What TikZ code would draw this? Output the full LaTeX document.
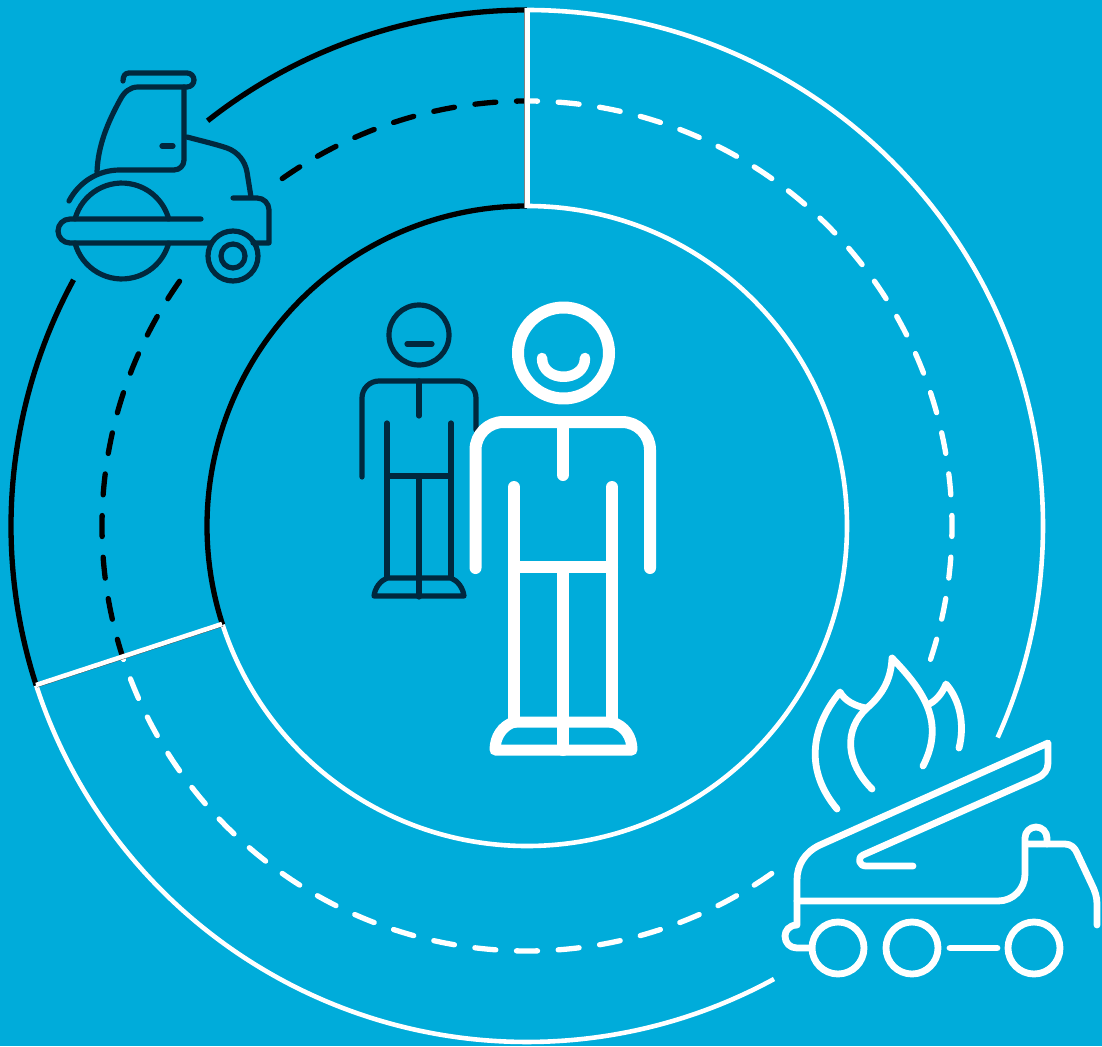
\documentclass[tikz,border=0pt]{standalone}
\definecolor{skyback}{RGB}{0,172,218}
\definecolor{navyline}{RGB}{0,40,62}
\tikzset{
  ringline/.style={line width=5.3pt},
  ringdash/.style={line width=5.3pt,line cap=round,dash pattern=on 21pt off 20.72pt},
  navyicon/.style={navyline,line width=5.2pt,line cap=round,line join=round},
  whiteicon/.style={white,line width=6.8pt,line cap=round,line join=round},
  whiteman/.style={white,line width=12pt,line cap=round,line join=round},
}
\begin{document}
\begin{tikzpicture}[x=1pt,y=-1pt]
    \fill[skyback] (0,0) rectangle (1102,1046);
    \useasboundingbox (0,0) rectangle (1102,1046);
    \coordinate (ringcentre) at (527,526);
    % black part of the rings
    \draw[ringline,black] (ringcentre) ++(-90:516) arc[start angle=-90,end angle=-128.25,radius=516];
    \draw[ringline,black] (ringcentre) ++(-151.5:516) arc[start angle=-151.5,end angle=-198,radius=516];
    \draw[ringline,black] (ringcentre) ++(-90:320) arc[start angle=-90,end angle=-198,radius=320];
    \draw[ringdash,black,dash phase=10.5pt] (ringcentre) ++(-90:425) arc[start angle=-90,end angle=-125.2,radius=425];
    \draw[ringdash,black,dash phase=39.2pt] (ringcentre) ++(-144.5:425) arc[start angle=-144.5,end angle=-198,radius=425];
    % white part of the rings
    \draw[ringline,white,line width=4.6pt] (ringcentre) ++(-90:516) arc[start angle=-90,end angle=24.2,radius=516];
    \draw[ringline,white,line width=4.6pt] (ringcentre) ++(61.4:516) arc[start angle=61.4,end angle=162,radius=516];
    \draw[ringline,white,line width=4.6pt] (ringcentre) ++(-90:320) arc[start angle=-90,end angle=162,radius=320];
    \draw[ringdash,white,dash phase=10.5pt] (ringcentre) ++(-90:425) arc[start angle=-90,end angle=18.4,radius=425];
    \draw[ringdash,white,dash phase=40.7pt] (ringcentre) ++(54.7:425) arc[start angle=54.7,end angle=162,radius=425];
    % separators
    \draw[gray,line width=1.5pt] (525.2,8) -- (525.2,208);
    \draw[white,line width=4.6pt] (527.5,8) -- (527.5,208);
    \draw[black!70,line width=1pt] (37,687) -- (223,626);
    \draw[white,line width=4.6pt] (36,685) -- (222,624);
    % roller
    \begin{scope}
      \draw[navyicon] (123,81) .. controls (123,76) and (125,73) .. (129,73) -- (187,73)
        arc[start angle=-90,end angle=90,radius=7] -- (138,87)
        .. controls (130,87) and (124,92) .. (120,100)
        .. controls (108,122) and (98,145) .. (97,172);
      \draw[navyicon] (184,87) -- (184,160) arc[start angle=0,end angle=90,radius=10] -- (120,170)
        .. controls (98,170) and (79,182) .. (69,201);
      \draw[navyicon] (162,146) -- (173,146);
      \draw[navyicon] (187,137) .. controls (202,141) and (215,144) .. (227,148)
        .. controls (238,152) and (245,161) .. (247,172) -- (251,197);
      \draw[navyicon] (233,198) -- (257,198) arc[start angle=-90,end angle=0,radius=12] -- (269,243) -- (253,243);
      \draw[navyicon] (201,219) -- (70,219) arc[start angle=-90,end angle=-270,radius=12] -- (210,243);
      \draw[navyicon] (75,219) arc[start angle=-165,end angle=-15,radius=48.5];
      \draw[navyicon] (75,243) arc[start angle=165,end angle=15,radius=48.5];
      \draw[navyicon] (233,256) circle (25);
      \draw[navyicon] (233,256) circle (12);
    \end{scope}
    % fire truck
    \begin{scope}
      \draw[whiteicon] (913,866) -- (866,866) .. controls (859,866) and (857,858) .. (863,855)
        -- (1037,778) .. controls (1044,775) and (1048,770) .. (1048,763) -- (1048,743)
        -- (820,845) .. controls (805,852) and (797,865) .. (797,880) -- (797,925)
        .. controls (789,925) and (785,931) .. (785,936) .. controls (785,943) and (790,948) .. (797,948) -- (812,948);
      \draw[whiteicon] (797,901) -- (998,901) .. controls (1013,901) and (1025,889) .. (1025,874) -- (1025,838)
        arc[start angle=180,end angle=360,radius=11] -- (1047,844);
      \draw[whiteicon] (1027,844) -- (1065,844) .. controls (1071,844) and (1075,848) .. (1077,853)
        -- (1092,885) .. controls (1095,891) and (1097,897) .. (1097,904) -- (1097,925);
      \foreach \wheelx in {838,912,1034}
        {\draw[whiteicon] (\wheelx,948) circle (26);}
      \draw[whiteicon] (950,948) -- (997,948);
      % flames
      \draw[whiteicon] (872,789) .. controls (846,763) and (843,730) .. (867,708)
        .. controls (882,695) and (891,680) .. (892,658)
        .. controls (925,692) and (945,723) .. (923,766);
      \draw[whiteicon] (837,809) .. controls (806,772) and (809,730) .. (840,692)
        .. controls (845,701) and (855,706) .. (866,708);
      \draw[whiteicon] (927,705) .. controls (935,702) and (942,694) .. (946,684)
        .. controls (960,700) and (965,725) .. (959,748);
    \end{scope}
    % small person
    \begin{scope}
      \draw[navyicon] (419,335) circle (30);
      \draw[navyicon] (407,344) -- (432,344);
      \draw[navyicon] (362,477) -- (362,398) arc[start angle=180,end angle=270,radius=17] -- (459,381)
        arc[start angle=-90,end angle=0,radius=17] -- (476,430);
      \draw[navyicon] (419,381) -- (419,416);
      \draw[navyicon] (387,423) -- (387,578);
      \draw[navyicon] (451,423) -- (451,578);
      \draw[navyicon] (387,476) -- (451,476);
      \draw[navyicon] (419,476) -- (419,597);
      \draw[navyicon] (387,578) -- (451,578) .. controls (458,581) and (463,588) .. (464,596) -- (374,596)
        .. controls (375,588) and (380,581) .. (387,578);
    \end{scope}
    % big person
    \begin{scope}
      \draw[whiteman] (563.5,353) circle (45.5);
      \draw[whiteman,line width=10.5pt] (542,358) .. controls (542,383) and (585,383) .. (585,358);
      \draw[whiteman] (475.5,568) -- (475.5,450) arc[start angle=180,end angle=270,radius=28] -- (622,422)
        arc[start angle=-90,end angle=0,radius=28] -- (650,568);
      \draw[whiteman] (563,422) -- (563,475);
      \draw[whiteman] (514,487) -- (514,722);
      \draw[whiteman] (612,487) -- (612,722);
      \draw[whiteman] (514,567) -- (612,567);
      \draw[whiteman] (563,567) -- (563,750);
      \draw[whiteman,line width=11pt] (514,722) -- (612,722) .. controls (625,726) and (632,737) .. (632,750) -- (495,750)
        .. controls (495,737) and (502,726) .. (514,722);
    \end{scope}
\end{tikzpicture}
\end{document}
